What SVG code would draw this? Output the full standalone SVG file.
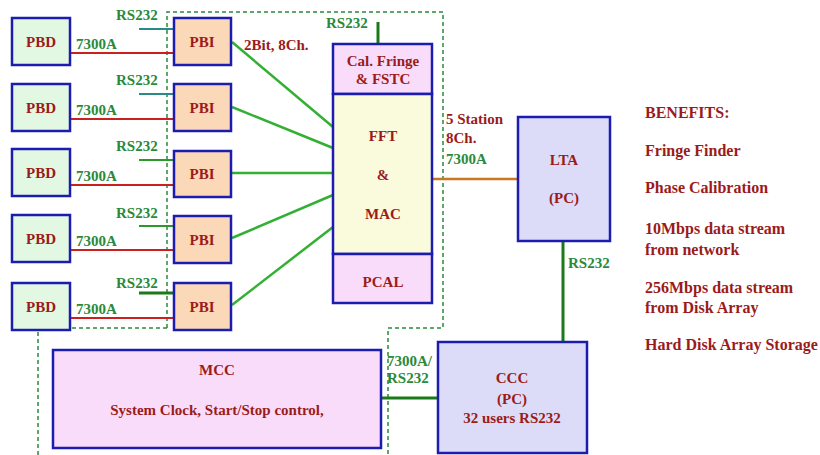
<svg xmlns="http://www.w3.org/2000/svg" width="820" height="455" viewBox="0 0 820 455">
<style>
text{font-family:"Liberation Serif","Times New Roman",serif;font-weight:bold;}
.t{fill:#9b1b1b;font-size:15px;}
.b{fill:#9b1b1b;font-size:16px;}
.tc{fill:#9b1b1b;font-size:15px;text-anchor:middle;}
.g{fill:#2a8a3a;font-size:15px;}
.box{stroke:#1c1cb0;stroke-width:2.5;}
.pbd{fill:#e2f8e2;}
.pbi{fill:#fbd8b8;}
.pink{fill:#f9dcf9;}
.yel{fill:#fafadc;}
.lav{fill:#dcdcf8;}
.dash{fill:none;stroke:#2a8a3a;stroke-width:1.5;stroke-dasharray:4,3;}
.red{stroke:#cc2020;stroke-width:2;}
.teal{stroke:#2a8a8a;stroke-width:2;}
.grn{stroke:#2a9a2a;stroke-width:2;}
.bg{stroke:#33b033;stroke-width:2.5;fill:none;}
.dg{stroke:#1a7a1a;stroke-width:3;}
</style>
<rect width="820" height="455" fill="#ffffff"/>
<g id="boundaries">
<polyline class="dash" points="167,328 167,12 443,12 443,328 388,328 388,455"/>
<polyline class="dash" points="167,328 38,328 38,455"/>
</g>
<g id="connectors">
<line class="red" x1="70" y1="53" x2="174" y2="53"/>
<line class="red" x1="70" y1="119" x2="174" y2="119"/>
<line class="red" x1="70" y1="185" x2="174" y2="185"/>
<line class="red" x1="70" y1="250" x2="174" y2="250"/>
<line class="red" x1="70" y1="318" x2="174" y2="318"/>
<line class="teal" x1="139" y1="29" x2="174" y2="29"/>
<line class="teal" x1="139" y1="94" x2="174" y2="94"/>
<line class="grn" x1="139" y1="160" x2="174" y2="160"/>
<line class="grn" x1="139" y1="226" x2="174" y2="226"/>
<line class="dg" x1="139" y1="293" x2="174" y2="293"/>
<line class="bg" x1="232" y1="42" x2="333" y2="127"/>
<line class="bg" x1="232" y1="107" x2="333" y2="148"/>
<line class="bg" x1="232" y1="173" x2="333" y2="173"/>
<line class="bg" x1="232" y1="238" x2="333" y2="195"/>
<line class="bg" x1="232" y1="305" x2="333" y2="227"/>
<line class="dg" x1="378" y1="22" x2="378" y2="44"/>
<line x1="432" y1="179" x2="518" y2="179" stroke="#c87820" stroke-width="2.5"/>
<line class="dg" x1="563" y1="241" x2="563" y2="342"/>
<line class="dg" x1="381" y1="398" x2="438" y2="398"/>
</g>
<g id="labels">
<text class="g" x="116" y="20">RS232</text>
<text class="g" x="116" y="85">RS232</text>
<text class="g" x="116" y="151">RS232</text>
<text class="g" x="116" y="218">RS232</text>
<text class="g" x="116" y="288">RS232</text>
<text class="g" x="76" y="49">7300A</text>
<text class="g" x="76" y="115">7300A</text>
<text class="g" x="76" y="181">7300A</text>
<text class="g" x="76" y="246">7300A</text>
<text class="g" x="76" y="314">7300A</text>
<text class="t" x="244" y="50" font-size="14">2Bit, 8Ch.</text>
<text class="g" x="326" y="28">RS232</text>
<text class="t" x="446" y="124">5 Station</text>
<text class="t" x="446" y="143">8Ch.</text>
<text class="g" x="446" y="164">7300A</text>
<text class="g" x="568" y="268">RS232</text>
<text class="g" x="387" y="366">7300A/</text>
<text class="g" x="387" y="383">RS232</text>
</g>
<g id="pbd1"><rect class="box pbd" x="12" y="18" width="58" height="47"/><text class="tc" x="41" y="47">PBD</text></g>
<g id="pbd2"><rect class="box pbd" x="12" y="84" width="58" height="47"/><text class="tc" x="41" y="113">PBD</text></g>
<g id="pbd3"><rect class="box pbd" x="12" y="149" width="58" height="47"/><text class="tc" x="41" y="178">PBD</text></g>
<g id="pbd4"><rect class="box pbd" x="12" y="215" width="58" height="47"/><text class="tc" x="41" y="244">PBD</text></g>
<g id="pbd5"><rect class="box pbd" x="12" y="283" width="58" height="47"/><text class="tc" x="41" y="312">PBD</text></g>
<g id="pbi1"><rect class="box pbi" x="174" y="18" width="57" height="47"/><text class="tc" x="202" y="47">PBI</text></g>
<g id="pbi2"><rect class="box pbi" x="174" y="84" width="57" height="47"/><text class="tc" x="202" y="113">PBI</text></g>
<g id="pbi3"><rect class="box pbi" x="174" y="151" width="57" height="46"/><text class="tc" x="202" y="179">PBI</text></g>
<g id="pbi4"><rect class="box pbi" x="174" y="216" width="57" height="47"/><text class="tc" x="202" y="245">PBI</text></g>
<g id="pbi5"><rect class="box pbi" x="174" y="283" width="57" height="47"/><text class="tc" x="202" y="312">PBI</text></g>
<g id="calfringe"><rect class="box pink" x="333" y="44" width="99" height="50"/><text class="tc" x="383" y="66">Cal. Fringe</text><text class="tc" x="383" y="84">&amp; FSTC</text></g>
<g id="fftmac"><rect class="box yel" x="333" y="94" width="99" height="160"/><text class="tc" x="383" y="141">FFT</text><text class="tc" x="383" y="180">&amp;</text><text class="tc" x="383" y="219">MAC</text></g>
<g id="pcal"><rect class="box pink" x="333" y="254" width="99" height="49"/><text class="tc" x="383" y="287">PCAL</text></g>
<g id="lta"><rect class="box lav" x="518" y="117" width="92" height="124"/><text class="tc" x="564" y="165">LTA</text><text class="tc" x="564" y="203">(PC)</text></g>
<g id="ccc"><rect class="box lav" x="438" y="342" width="149" height="111"/><text class="tc" x="512" y="383">CCC</text><text class="tc" x="512" y="404">(PC)</text><text class="tc" x="512" y="423">32 users RS232</text></g>
<g id="mcc"><rect class="box pink" x="53" y="350" width="328" height="98"/><text class="tc" x="217" y="375" font-weight="normal">MCC</text><text class="tc" x="217" y="415" font-weight="normal">System Clock, Start/Stop control,</text></g>
<g id="benefits">
<text class="b" x="645" y="118">BENEFITS:</text>
<text class="b" x="645" y="156">Fringe Finder</text>
<text class="b" x="645" y="193">Phase Calibration</text>
<text class="b" x="645" y="234">10Mbps data stream</text>
<text class="b" x="645" y="255">from network</text>
<text class="b" x="645" y="293">256Mbps data stream</text>
<text class="b" x="645" y="313">from Disk Array</text>
<text class="b" x="645" y="350">Hard Disk Array Storage</text>
</g>
</svg>
